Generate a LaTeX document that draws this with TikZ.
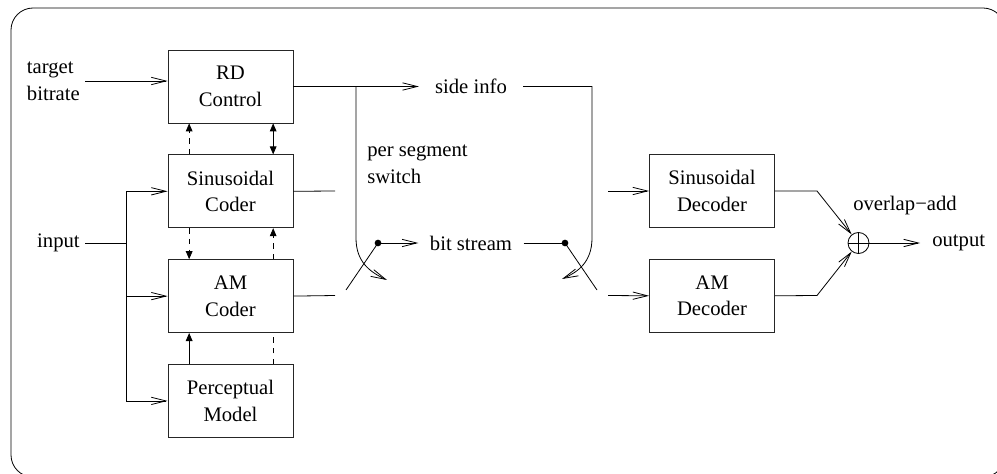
\documentclass[tikz,border=0pt]{standalone}
\usepackage{fontspec}
\setmainfont{Liberation Serif}
\usetikzlibrary{arrows.meta,positioning,calc}
\tikzset{
  cdblock/.style={draw=black!85, line width=0.6pt, align=center,
    minimum width=93.75pt, minimum height=54.75pt, inner sep=2pt},
  cdarrow/.style={-{Straight Barb[length=11pt,width=5.5pt]}, line width=0.6pt},
  cdtip/.style={-{Triangle[length=6pt,width=5pt]}, line width=0.6pt},
  cdboth/.style={{Triangle[length=6pt,width=5pt]}-{Triangle[length=6pt,width=5pt]}, line width=0.6pt},
  cdline/.style={line width=0.6pt},
  cddash/.style={dash pattern=on 4pt off 4pt, line width=0.6pt},
  cdnote/.style={align=left, inner sep=3.75pt},
  cddot/.style={circle, fill, inner sep=0pt, minimum size=5pt},
  cdsum/.style={draw, circle, line width=0.6pt, inner sep=0pt, minimum size=15.75pt,
    path picture={\draw[line width=0.6pt] (path picture bounding box.north) -- (path picture bounding box.south)
      (path picture bounding box.west) -- (path picture bounding box.east);}}
}
\begin{document}
\begin{tikzpicture}[x=0.75pt, y=-0.75pt, every node/.style={font=\fontsize{15.5}{20}\selectfont}]
  \clip (0,0) rectangle (997,474);
  \draw[line width=0.6pt, rounded corners=16.5pt] (11,8) rectangle (1005,477);

  \node[cdblock] (rd) at (230.5,86.5) {RD\\Control};
  \node[cdblock, below=23.25pt of rd] (sincod) {Sinusoidal\\Coder};
  \node[cdblock, below=23.25pt of sincod] (amcod) {AM\\Coder};
  \node[cdblock, below=23.25pt of amcod] (percep) {Perceptual\\Model};
  \node[cdblock] (sindec) at (712,191) {Sinusoidal\\Decoder};
  \node[cdblock, below=23.25pt of sindec] (amdec) {AM\\Decoder};
  \node[cdsum] (sum) at (858.5,243) {};

  \node[cdnote, anchor=east] (target) at (85,81) {target\\bitrate};
  \node[cdnote, anchor=east] (input) at (85,243) {input};
  \node[inner xsep=12pt] (sideinfo) at (471,86.5) {side info};
  \node[inner xsep=8.5pt] (bitstream) at (471,243) {bit stream};
  \node[cdnote, anchor=west, inner sep=0pt] (segsw) at (367,164) {per segment\\switch};
  \node (overlap) at (905,206) {overlap−add};
  \node[anchor=west, inner xsep=9pt] (output) at (920,243) {output};

  \draw[cdarrow] (target.east) -- (target.east -| rd.west);
  \coordinate (bus) at (126,243);
  \draw[cdline] (input.east) -- (bus);
  \draw[cdarrow] (bus) |- (sincod.west);
  \draw[cdarrow] (bus) |- (amcod.west);
  \draw[cdarrow] (bus) |- (percep.west);

  \draw[cddash, cdtip] ([xshift=-31pt]sincod.north) -- ([xshift=-31pt]rd.south);
  \draw[cdboth] ([xshift=32pt]sincod.north) -- ([xshift=32pt]rd.south);
  \draw[cddash, cdtip] ([xshift=-31pt]sincod.south) -- ([xshift=-31pt]amcod.north);
  \draw[cddash, cdtip] ([xshift=32pt]amcod.north) -- ([xshift=32pt]sincod.south);
  \draw[cdtip] ([xshift=-31pt]percep.north) -- ([xshift=-31pt]amcod.south);
  \draw[cddash] ([xshift=32pt]percep.north) -- ([xshift=32pt]amcod.south);

  \draw[cdarrow] (rd.east) -- (sideinfo.west);
  \coordinate (swl) at (356,86.5);
  \coordinate (swlbend) at (356,238);
  \coordinate (swlend) at (387,280);
  \draw[cdarrow] (swl) -- (swlbend) .. controls (356,262) and (370,272) .. (swlend);
  \coordinate (swrbend) at (592,238);
  \coordinate (swrend) at (562,279);
  \draw[cdarrow] (sideinfo.east) -| (swrbend) .. controls (592,262) and (578,272) .. (swrend);

  \coordinate (sincodout) at (335,191);
  \coordinate (amcodout) at (335,295.5);
  \draw[cdline] (sincod.east) -- (sincodout);
  \draw[cdline] (amcod.east) -- (amcodout);
  \node[cddot] (dotl) at (378,243) {};
  \node[cddot] (dotr) at (565,243) {};
  \coordinate (bladel) at (346,290);
  \coordinate (blader) at (597,290);
  \draw[cdline] (bladel) -- (dotl.center);
  \draw[cdarrow] (dotl.center) -- (bitstream.west);
  \draw[cdline] (bitstream.east) -- (dotr.center);
  \draw[cdline] (dotr.center) -- (blader);

  \coordinate (sindecin) at (608,191);
  \coordinate (amdecin) at (608,295.5);
  \draw[cdarrow] (sindecin) -- (sindec.west);
  \draw[cdarrow] (amdecin) -- (amdec.west);
  \coordinate (sindecout) at (817,191);
  \coordinate (amdecout) at (817,295.5);
  \draw[cdarrow] (sindec.east) -- (sindecout) -- (sum);
  \draw[cdarrow] (amdec.east) -- (amdecout) -- (sum);
  \draw[cdarrow] (sum) -- (output.west);
\end{tikzpicture}
\end{document}
